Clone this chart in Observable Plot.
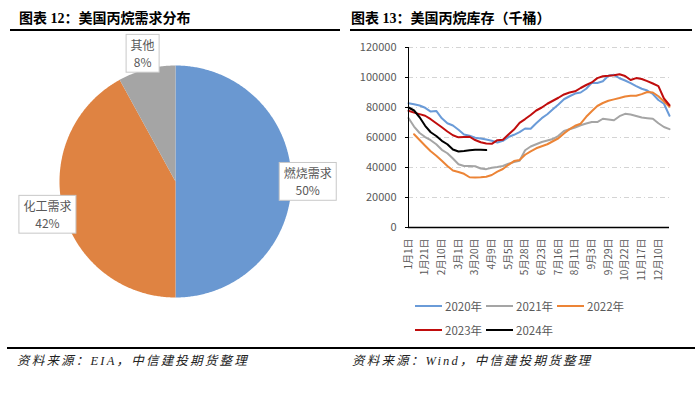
<!DOCTYPE html>
<html>
<head>
<meta charset="utf-8">
<script src="https://cdn.jsdelivr.net/npm/d3@7"></script>
<script src="https://cdn.jsdelivr.net/npm/@observablehq/plot@0.6"></script>
<style>
  body { margin: 0; background: #fff; }
  #root { position: relative; width: 700px; height: 394px; overflow: hidden; background: #fff;
          font-family: "Noto Sans CJK SC", "Noto Sans", sans-serif; }
  .title { position: absolute; top: 9px; font-size: 14px; font-weight: 700; line-height: 20px; color: #000;
           font-family: "Liberation Serif", "Noto Sans CJK SC", serif; white-space: nowrap; }
  .rule { position: absolute; background: #000; }
  .cap { position: absolute; top: 353px; font-size: 12.5px; line-height: 16px; font-style: italic; color: #222;
         letter-spacing: 2.2px; font-family: "Liberation Serif", "Noto Sans CJK SC", serif; white-space: nowrap; }
  .panel { position: absolute; }
  .leg { position: absolute; display: flex; align-items: center; font-size: 11.5px; color: #595959; height: 16px; white-space: nowrap; }
  .leg span.sw { display: inline-block; width: 27px; height: 2.5px; margin-right: 3px; }
</style>
</head>
<body>
<div id="root">
  <div class="title" style="left:19px">图表 12：美国丙烷需求分布</div>
  <div class="title" style="left:351px">图表 13：美国丙烷库存（千桶）</div>
  <div class="rule" style="left:10px;top:29px;width:330px;height:2px"></div>
  <div class="rule" style="left:350px;top:29px;width:342px;height:2px"></div>
  <div class="rule" style="left:7px;top:347px;width:688px;height:2px"></div>
  <div class="cap" style="left:17px">资料来源：EIA，中信建投期货整理</div>
  <div class="cap" style="left:352px">资料来源：Wind，中信建投期货整理</div>
  <div id="pie" class="panel" style="left:0px;top:33px"></div>
  <div id="line" class="panel" style="left:340px;top:36px"></div>
  <div id="legend"></div>
</div>
<script>
// ---------- Pie data ----------
const pieCats = ["燃烧需求", "化工需求", "其他"];
const pieVals = [50, 42, 8];
const pieColors = ["#6a98d1", "#df8342", "#a5a5a5"];

// ---------- Line chart data ----------
const xLabels = ["1月1日","1月21日","2月10日","3月1日","3月20日","4月9日","5月5日","5月28日",
                 "6月23日","7月16日","8月11日","9月3日","9月29日","10月22日","11月17日","12月10日"];
const yTicks = [0, 20000, 40000, 60000, 80000, 100000, 120000];
const years = ["2020年", "2021年", "2022年", "2023年", "2024年"];
const yearColors = ["#6a9bd8", "#a5a5a5", "#ec8436", "#c00d0d", "#000000"];

const v2020 = [82900,82200,81300,79800,77300,77700,72800,69500,68000,65200,62000,61200,59800,59400,58600,57800,
               56700,57800,60300,61800,63600,66000,65800,69500,72900,75500,78800,82000,85500,87500,89300,90000,
               92500,96500,96300,97500,101200,101800,99500,98000,96300,94300,92500,91300,89000,85000,82500,74500];
const v2021 = [73000,67300,63000,60300,58200,55500,51800,49500,46000,42200,41000,41000,40800,39300,38900,39800,
               40300,41000,42500,43600,44500,51500,54000,55500,57000,58000,59000,61100,64300,65500,66700,68200,
               69300,70300,70300,72500,72000,71500,74200,75800,75300,74300,73300,72900,72500,69500,67000,65600];
const v2022 = [null,62200,58300,54500,50800,47800,44500,41000,38000,37000,35800,33500,33300,33500,33800,35000,
               37200,39000,41800,44300,45000,48500,50800,52800,54200,55500,57500,59500,62700,65600,67800,69200,
               73800,77500,81000,83000,84500,85400,86300,87300,87800,87800,88900,90300,90000,87500,84000,80500];
const v2023 = [77800,76600,75600,74500,72200,69500,66800,64000,61500,60100,60300,60500,58300,56800,56000,55800,
               58200,58500,62000,65300,69800,72300,75000,78000,80000,82500,84500,86500,88700,90000,90800,93000,
               95000,96700,99600,100800,101100,101500,102200,101000,98300,99600,99000,97600,96000,94300,86000,81500];
const v2024 = [80000,78000,73500,67800,63500,61000,57800,55500,52000,50700,51000,51500,51800,51800,51600];

const seriesVals = [v2020, v2021, v2022, v2023, v2024];
const rows = [];
seriesVals.forEach((arr, k) => arr.forEach((v, i) => rows.push({i, v, year: years[k]})));
const xTickIdx = xLabels.map((_, k) => k * 3);

const fontFam = '"Noto Sans CJK SC", "Noto Sans", sans-serif';

// ---------- Pie via Plot.geo with identity projection ----------
const arcs = d3.pie().sort(null)(pieVals);
const features = arcs.map((a, k) => {
  const pts = [[0, 0]];
  const n = Math.max(8, Math.ceil((a.endAngle - a.startAngle) / 0.01));
  for (let j = 0; j <= n; j++) {
    const t = a.startAngle + (a.endAngle - a.startAngle) * j / n;
    pts.push([Math.sin(t), -Math.cos(t)]);
  }
  pts.push([0, 0]);
  return {type: "Feature", properties: {name: pieCats[k], color: pieColors[k]},
          geometry: {type: "Polygon", coordinates: [pts]}};
});
const labelR = 1.14;
const pieLabels = arcs.map((a, k) => {
  const m = (a.startAngle + a.endAngle) / 2;
  return {x: labelR * Math.sin(m), y: -labelR * Math.cos(m),
          text: pieCats[k] + "\n" + pieVals[k] + "%"};
});

const pie = Plot.plot({
  width: 350, height: 300,
  marginLeft: 59, marginRight: 59, marginTop: 32, marginBottom: 36,
  projection: {type: "identity", domain: {type: "MultiPoint", coordinates: [[-1, -1], [1, 1]]}, clip: false},
  style: {background: "transparent", overflow: "visible", fontFamily: fontFam},
  marks: [
    Plot.geo(features, {fill: d => d.properties.color, stroke: "none"}),
    Plot.text(pieLabels, {x: "x", y: "y", text: "text", fill: "#595959", fontSize: 12, lineHeight: 1.4})
  ]
});
document.getElementById("pie").appendChild(pie);
pie.querySelectorAll('g[aria-label="text"] text').forEach(t => {
  const b = t.getBBox();
  const r = document.createElementNS("http://www.w3.org/2000/svg", "rect");
  r.setAttribute("x", b.x - 4.5);
  r.setAttribute("y", b.y - 2);
  r.setAttribute("width", b.width + 9);
  r.setAttribute("height", b.height + 4);
  r.setAttribute("fill", "#ffffff");
  r.setAttribute("stroke", "#c8c8c8");
  r.setAttribute("stroke-width", 1);
  const tf = t.getAttribute("transform");
  if (tf) r.setAttribute("transform", tf);
  t.parentNode.insertBefore(r, t);
});

// ---------- Line chart ----------
const line = Plot.plot({
  width: 360, height: 260,
  marginLeft: 68, marginRight: 31, marginTop: 11, marginBottom: 69,
  x: {domain: [0, 47]},
  y: {domain: [0, 120000]},
  color: {domain: years, range: yearColors},
  style: {background: "transparent", overflow: "visible", fontFamily: fontFam, color: "#595959"},
  marks: [
    Plot.ruleY(yTicks.filter(d => d > 0), {stroke: "#d4d4d4", strokeDasharray: "5,3,1,3", strokeWidth: 1}),
    Plot.axisY({ticks: yTicks, tickFormat: d => String(d), tickSize: 3, tickPadding: 9, fontSize: 11,
                label: null, stroke: "#000"}),
    Plot.axisX({ticks: xTickIdx, tickFormat: d => xLabels[d / 3], tickRotate: -90, tickSize: 0,
                tickPadding: 11, fontSize: 10, label: null}),
    Plot.line(rows, {x: "i", y: "v", z: "year", stroke: "year", strokeWidth: 2}),
    Plot.ruleX([0], {y1: 0, y2: 120000, stroke: "#000", strokeWidth: 1}),
    Plot.ruleY([0], {stroke: "#000", strokeWidth: 1.5})
  ]
});
document.getElementById("line").appendChild(line);

// ---------- Legend ----------
const legPos = [[415, 306], [486, 306], [557, 306], [415, 330], [486, 330]];
const legend = document.getElementById("legend");
years.forEach((y, k) => {
  const d = document.createElement("div");
  d.className = "leg";
  d.style.left = legPos[k][0] + "px";
  d.style.top = (legPos[k][1] - 8) + "px";
  d.innerHTML = `<span class="sw" style="background:${yearColors[k]}"></span>${y}`;
  legend.appendChild(d);
});
</script>
</body>
</html>
